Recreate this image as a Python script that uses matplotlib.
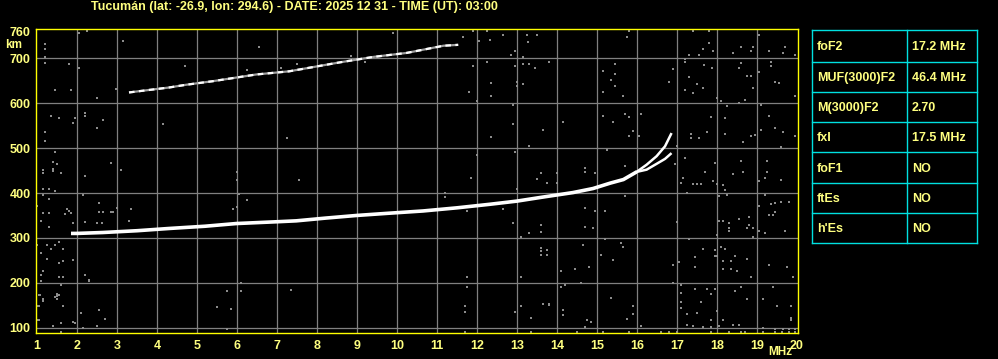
import matplotlib
matplotlib.use("Agg")
import matplotlib.pyplot as plt

# ---------------- data ----------------
title = "Tucumán (lat: -26.9, lon: 294.6) - DATE: 2025 12 31 - TIME (UT): 03:00"
x_ticks = list(range(1, 21))
y_ticks = [100, 200, 300, 400, 500, 600, 700, 760]

# F2 trace (ordinary, lower part)
f2_freq = [1.85, 2.0, 2.64, 3.5, 4.3, 5.2, 5.98, 7.0, 7.48, 8.2, 8.99, 9.8,
           10.65, 11.5, 12.33, 13.0, 13.65, 14.4, 14.9, 15.33, 15.66, 15.99]
f2_height = [310, 310, 312, 316, 321, 326, 332, 336, 338, 344, 350, 355,
             360, 367, 375, 382, 391, 401, 410, 422, 430, 447]
# O-mode cusp branch
o_freq = [15.99, 16.24, 16.49, 16.7, 16.85]
o_height = [447, 463, 482, 504, 531]
# X-mode branch
x_freq = [15.99, 16.24, 16.49, 16.7, 16.84]
x_height = [447, 452, 465, 476, 487]
# second hop
hop_freq = [3.3, 4.3, 4.72, 5.39, 6.48, 7.3, 8.57, 9.4, 10.24, 11.16, 11.53]
hop_height = [624, 635, 641, 649, 664, 671, 691, 703, 712, 728, 730]

# scattered noise echoes (gray)
noise_freq = [
    2.04, 2.24, 1.19, 1.19, 1.19, 1.19, 3.14, 1.79, 2.04, 4.69, 6.54, 6.24, 7.1,
    1.44, 1.84, 2.49, 2.98, 1.34, 1.54, 1.94, 1.89, 2.19, 2.21, 2.64, 2.49, 1.19,
    1.19, 4.14, 7.24, 1.44, 1.39, 1.49, 2.84, 3.09, 1.14, 1.39, 1.4, 2.19, 1.14,
    1.59, 5.99, 5.99,
    9.89, 11.64, 11.89, 12.24, 12.06, 12.33, 12.64, 13.24, 13.49, 13.28, 12.96,
    12.86, 13.14, 11.89, 12.24, 12.96, 13.14, 13.29, 13.44, 13.79, 12.34, 12.99,
    12.99, 13.14, 11.79, 12.34, 11.99, 12.89, 12.89, 13.64, 12.34, 13.29, 12.94,
    11.99, 11.84, 13.49, 13.74, 7.54, 7.49, 8.84, 9.19,
    15.79, 15.74, 17.39, 17.79, 17.79, 19.04, 17.64, 17.89, 17.29, 17.19, 17.19,
    17.54, 18.39, 18.59, 18.89, 18.84, 19.29, 19.64, 19.69, 19.94, 15.44, 15.14,
    15.44, 15.34, 15.44, 15.14, 15.64, 16.79, 16.89, 17.68, 17.87, 17.29, 17.49,
    17.64, 17.19, 17.39, 17.99, 18.09, 18.24, 18.54, 18.69, 18.59, 18.54, 18.74,
    18.84, 18.89, 19.04, 19.34, 19.34, 19.44, 19.54, 19.94, 19.09, 19.29, 19.44,
    19.64, 19.94, 19.59, 19.09, 18.94, 18.84, 18.64, 18.19, 18.19, 17.84, 17.74,
    17.54, 17.34, 17.34, 17.19, 16.94, 16.99, 17.69, 17.94, 18.39, 18.59, 18.64,
    17.14, 17.39, 17.5, 17.9, 19.24, 19.24, 19.19, 19.04, 19.59, 15.14, 15.39,
    15.69, 15.79, 16.09, 15.89, 15.79, 16.04, 15.24, 14.14, 13.64, 14.69, 14.69,
    14.94, 14.0, 13.6, 13.74, 13.99, 15.69,
    1.14, 1.29, 1.44, 1.14, 1.29, 1.0, 1.14, 1.29, 1.09, 1.29, 1.74, 1.79, 1.84,
    1.69, 1.89, 2.54, 2.64, 2.54, 2.84, 3.0, 2.9, 2.49, 2.62, 2.19, 2.14, 3.34,
    3.29, 1.0, 1.24, 1.44, 1.54, 1.34, 1.64, 1.09, 1.24, 1.54, 1.64, 1.89, 1.14,
    1.09, 1.09, 1.54, 1.64, 2.19, 2.29, 1.59, 1.07, 1.14, 1.44, 1.54, 1.0, 1.64,
    2.09, 2.54, 2.69, 1.0, 1.94, 1.59, 1.39, 2.49, 2.14, 1.59, 5.74, 5.49, 5.84,
    5.74, 6.09, 6.09, 7.34, 6.04, 6.24, 5.89, 6.0, 2.29, 1.59,
    11.74, 11.74, 11.69, 11.69, 11.69, 13.09, 13.09, 12.94, 13.34, 13.64, 13.79,
    13.34, 13.59, 13.59, 13.74, 13.59, 13.29, 13.09, 12.89, 12.64, 11.74, 11.19,
    11.19, 12.99,
    15.69, 15.19, 14.69, 14.94, 13.59, 14.69, 14.89, 14.64, 13.59, 13.74, 15.09,
    15.39, 15.59, 15.64, 15.19, 14.09, 14.44, 14.79, 14.09, 14.19, 14.59, 13.64,
    13.79, 14.14, 14.14, 14.74, 14.84, 14.69, 15.14, 14.49, 15.34, 15.89, 15.89,
    15.74, 15.79, 16.09, 17.04, 16.89, 16.99, 17.09, 17.59, 17.99, 18.14, 18.19,
    17.24, 18.04, 18.24, 19.19, 19.04, 19.34, 19.44, 19.59, 19.79, 19.44, 19.39,
    19.29, 19.69, 18.04, 18.14, 18.29, 18.29, 18.29, 18.54, 18.79, 18.79, 18.74,
    18.89, 18.89, 19.04, 19.19, 17.99, 17.29, 17.64, 17.44, 17.44, 17.94, 17.94,
    17.99, 18.14, 18.14, 18.34, 18.49, 18.34, 18.44, 18.19, 18.09, 18.74, 18.84,
    19.29, 19.74, 19.89, 16.89, 17.09, 17.09, 17.09, 17.09, 17.44, 17.74, 17.94,
    17.84, 18.44, 18.59, 19.39, 18.74, 19.14, 19.49, 19.84, 17.24, 17.49, 17.59,
    17.99, 17.84, 18.14, 18.39, 18.54, 17.24, 17.39, 17.64, 17.84, 18.04, 19.84,
    19.84, 19.14, 19.44, 19.64, 19.79, 19.94,
    15.14, 15.79, 16.59, 16.79, 16.99, 17.84, 18.29, 18.59, 18.69, 19.14, 19.44,
    19.62, 19.79, 19.94, 1.04, 1.14, 1.14, 1.5, 1.5, 1.5, 1.04, 1.04, 1.89, 1.94,
    2.49,
]
noise_height = [
    757, 761, 732, 721, 703, 690, 739, 688, 679, 684, 726, 674, 678,
    630, 630, 612, 632, 571, 568, 568, 557, 579, 572, 563, 545, 536,
    516, 554, 523, 492, 469, 465, 467, 452, 452, 454, 448, 438, 445,
    445, 447, 429,
    756, 748, 761, 761, 739, 741, 753, 751, 753, 736, 717,
    707, 704, 684, 692, 684, 688, 688, 679, 692, 645, 648,
    639, 643, 626, 616, 606, 597, 554, 541, 525, 505, 492,
    485, 434, 432, 423, 430, 688, 705, 692,
    761, 748, 760, 760, 734, 753, 721, 717, 708, 699, 692,
    708, 712, 726, 726, 717, 717, 712, 726, 708, 688, 672,
    666, 652, 639, 626, 617, 648, 677, 686, 679, 659, 643,
    633, 630, 623, 612, 606, 594, 601, 608, 690, 679, 661,
    661, 635, 670, 692, 682, 648, 646, 617, 596, 571, 545,
    537, 528, 503, 540, 530, 528, 514, 568, 532, 570, 537,
    523, 531, 522, 479, 465, 504, 447, 467, 443, 472, 447,
    434, 421, 420, 426, 471, 447, 434, 426, 430, 572, 559,
    577, 570, 577, 539, 526, 528, 496, 559, 541, 456, 447,
    445, 445, 444, 423, 423, 461,
    409, 409, 404, 396, 387, 370, 355, 355, 338, 324, 365, 360, 355,
    354, 334, 378, 358, 357, 357, 366, 357, 333, 333, 336, 396, 365,
    338, 284, 284, 284, 291, 275, 275, 266, 253, 244, 249, 251, 226,
    217, 205, 213, 213, 217, 207, 195, 173, 164, 168, 173, 149, 149,
    133, 140, 120, 118, 111, 110, 104, 104, 99, 91, 96, 147, 142,
    182, 200, 182, 185, 398, 384, 365, 368, 205, 196,
    214, 191, 149, 136, 91, 214, 149, 136, 122, 153, 153,
    91, 271, 263, 263, 313, 310, 303, 334, 365, 361, 399,
    392, 410,
    394, 361, 367, 361, 329, 325, 323, 285, 278, 273, 263,
    251, 289, 280, 298, 227, 231, 236, 191, 196, 200, 153,
    151, 140, 129, 118, 113, 102, 91, 91, 167, 149, 131,
    120, 91, 104, 247, 240, 336, 423, 419, 419, 417, 407,
    400, 394, 396, 396, 370, 375, 378, 381, 381, 357, 352,
    352, 316, 338, 338, 334, 321, 315, 343, 347, 329, 321,
    321, 301, 315, 312, 307, 298, 276, 258, 236, 273, 260,
    260, 249, 231, 231, 227, 249, 260, 276, 280, 254, 214,
    240, 236, 214, 200, 196, 178, 158, 144, 187, 187, 187,
    174, 181, 191, 191, 165, 165, 149, 149, 131, 133, 158,
    138, 118, 117, 107, 107, 107, 104, 102, 102, 104, 122,
    118, 100, 98, 96, 98, 96,
    91, 91, 91, 91, 91, 91, 91, 91, 91, 91, 91,
    91, 91, 91, 173, 164, 160, 170, 175, 163, 149, 118, 113, 111,
    104,
]

# parameter table
param_names = ["foF2", "MUF(3000)F2", "M(3000)F2", "fxI", "foF1", "ftEs", "h'Es"]
param_values = ["17.2 MHz", "46.4 MHz", "2.70", "17.5 MHz", "NO", "NO", "NO"]

# ---------------- style ----------------
BG = "black"
YEL = "#ffff00"
PALE = "#ffff80"
GRID = "#808080"
CYAN = "#00e0e0"
FONT = "Liberation Sans"

W, H = 998, 359
fig = plt.figure(figsize=(W / 100, H / 100), dpi=100, facecolor=BG)

L, R, T, B = 36, 798, 29, 333
ax = fig.add_axes([L / W, 1 - B / H, (R - L) / W, (B - T) / H], facecolor=BG)
ax.set_xlim(0.975, 20.025)
ax.set_ylim(88.2, 765.3)

for xv in x_ticks[1:-1]:
    ax.axvline(xv, color=GRID, lw=0.9, zorder=1)
for yv in y_ticks[:-1]:
    ax.axhline(yv, color=GRID, lw=0.9, zorder=1)

ax.scatter(noise_freq, noise_height, s=4.6, marker="s", color="#8c8c8c",
           linewidths=0, zorder=2)

ax.plot(hop_freq, hop_height, color="#a0a0a0", lw=1.6, zorder=3,
        solid_capstyle="butt")
ax.plot(hop_freq, hop_height, color="white", lw=1.6, zorder=4,
        linestyle=(0, (2.5, 2.0)))

ax.plot(f2_freq, f2_height, color="white", lw=2.6, zorder=5,
        solid_capstyle="butt")
ax.plot(o_freq, o_height, color="white", lw=1.8, zorder=5)
ax.plot(x_freq, x_height, color="white", lw=1.8, zorder=5)

for sp in ax.spines.values():
    sp.set_color(YEL)
    sp.set_linewidth(1.0)
    sp.set_zorder(6)

ax.set_xticks(x_ticks)
ax.set_xticklabels([str(v) for v in x_ticks])
ax.set_yticks(y_ticks)
ax.set_yticklabels([str(v) for v in y_ticks])
ax.tick_params(axis="both", length=0, colors=PALE, labelsize=9)
ax.tick_params(axis="x", pad=5)
ax.tick_params(axis="y", pad=4)
for lab in ax.get_xticklabels() + ax.get_yticklabels():
    lab.set_fontfamily(FONT)
    lab.set_fontweight("bold")

# overlay in pixel coordinates for title, unit labels and table
ov = fig.add_axes([0, 0, 1, 1], facecolor="none")
ov.set_xlim(0, W)
ov.set_ylim(H, 0)
ov.axis("off")

ov.text(294, 7, title, color=PALE, fontsize=9, fontweight="bold",
        family=FONT, ha="center", va="center")
ov.text(13.5, 45, "km", color=PALE, fontsize=8.5, fontweight="bold",
        family=FONT, ha="center", va="center")
ov.text(780, 352, "MHz", color=PALE, fontsize=8.5, fontweight="bold",
        family=FONT, ha="center", va="center")

tx0, tx1, tx2 = 812, 907, 977
row_edges = [30, 62, 92, 122, 152, 183, 213, 243]
for yv in row_edges:
    ov.plot([tx0, tx2], [yv, yv], color=CYAN, lw=1.0)
for xv in (tx0, tx1, tx2):
    ov.plot([xv, xv], [row_edges[0], row_edges[-1]], color=CYAN, lw=1.0)
for i, (name, val) in enumerate(zip(param_names, param_values)):
    yc = (row_edges[i] + row_edges[i + 1]) / 2 + 1
    ov.text(817, yc, name, color=PALE, fontsize=9, fontweight="bold",
            family=FONT, ha="left", va="center")
    ov.text(912, yc, val, color=PALE, fontsize=9, fontweight="bold",
            family=FONT, ha="left", va="center")

fig.savefig("out.png", dpi=100, facecolor=BG)
